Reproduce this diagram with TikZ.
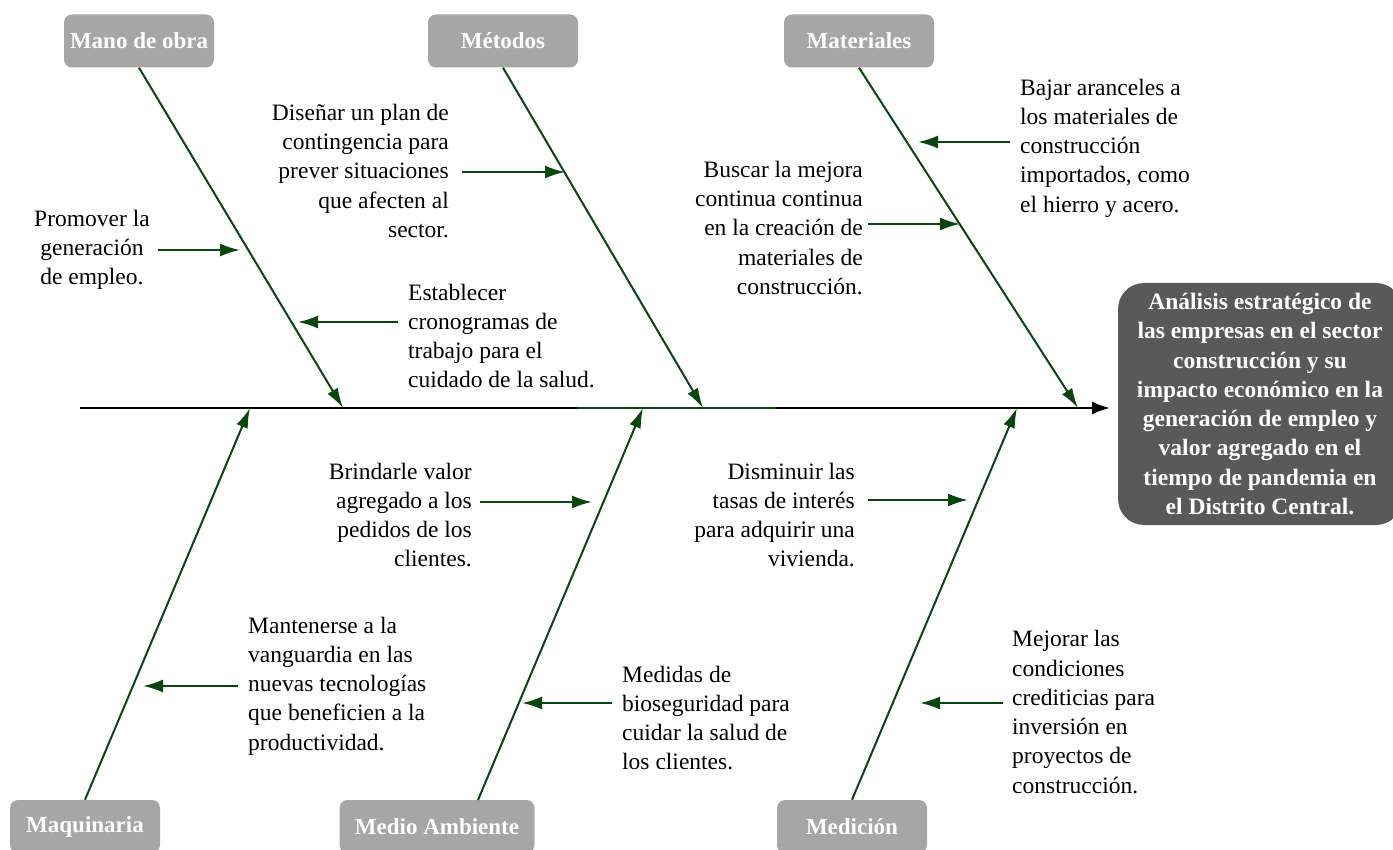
\documentclass[tikz,border=0pt]{standalone}
\usepackage{fontspec}
\setmainfont{Liberation Serif}
\usetikzlibrary{arrows.meta}
\definecolor{bonegreen}{RGB}{8,70,14}
\definecolor{boxgray}{RGB}{166,166,166}
\definecolor{headgray}{RGB}{89,89,89}

\begin{document}
\begin{tikzpicture}[x=1pt,y=-1pt,
  category/.style={fill=boxgray, rounded corners=8pt, minimum width=150pt,
    minimum height=53pt, text=white, font=\fontsize{23}{28}\selectfont\bfseries},
  effect/.style={fill=headgray, rounded corners=26pt, minimum width=284pt,
    minimum height=242pt, text=white, align=center,
    font=\fontsize{23.5}{29.3}\selectfont\bfseries},
  cause/.style={inner sep=0pt, font=\fontsize{23.5}{29.3}\selectfont},
  bone/.style={bonegreen, line width=2pt, -{Latex[length=20pt,width=12pt]}},
  idea/.style={bonegreen, line width=2.2pt, -{Latex[length=20pt,width=13pt]}}]
\useasboundingbox (0,0) rectangle (1393,850);
\clip (0,0) rectangle (1393,850);

% categorias
\node[category] (mano) at (139,41) {Mano de obra};
\node[category] (metodos) at (503,41) {Métodos};
\node[category] (materiales) at (859,41) {Materiales};
\node[category] (maquinaria) at (85,826.5) {Maquinaria};
\node[category, minimum width=195pt] (medio) at (437,826.5) {Medio Ambiente};
\node[category] (medicion) at (852,826.5) {Medición};

% efecto
\node[effect] (head) at (1260,404) {Análisis estratégico de\\las empresas en el sector\\construcción y su\\impacto económico en la\\generación de empleo y\\valor agregado en el\\tiempo de pandemia en\\el Distrito Central.};

% espina
\coordinate (tail) at (80,408);
\coordinate (headtip) at (1110,408);
\draw[line width=2.2pt, -{Latex[length=18pt,width=13pt]}] (tail) -- (headtip);
\draw[bonegreen, line width=2.2pt] (577,408) -- (776,408);

\coordinate (s1) at (343,408);
\coordinate (s2) at (703,408);
\coordinate (s3) at (1078,408);
\coordinate (s4) at (250,408);
\coordinate (s5) at (643,408);
\coordinate (s6) at (1017,408);
\coordinate (m5) at (478,800);

\draw[bone] (mano.south) -- (s1);
\draw[bone] (metodos.south) -- (s2);
\draw[bone] (materiales.south) -- (s3);
\draw[bone] (maquinaria.north) -- (s4);
\draw[bone] (m5) -- (s5);
\draw[bone] (medicion.north) -- (s6);

% causas
\node[cause, align=right, anchor=east] (dis) at (449,171)
  {Diseñar un plan de\\contingencia para\\prever situaciones\\que afecten al\\sector.};
\node[cause, align=center] (pro) at (92,250)
  {Promover la\\generación\\de empleo.};
\node[cause, align=left, anchor=west] (est) at (408,336)
  {Establecer\\cronogramas de\\trabajo para el\\cuidado de la salud.};
\node[cause, align=right, anchor=east] (bus) at (863,228)
  {Buscar la mejora\\continua continua\\en la creación de\\materiales de\\construcción.};
\node[cause, align=left, anchor=west] (baj) at (1020,148)
  {Bajar aranceles a\\los materiales de\\construcción\\importados, como\\el hierro y acero.};
\node[cause, align=right, anchor=east] (bri) at (472,515)
  {Brindarle valor\\agregado a los\\pedidos de los\\clientes.};
\node[cause, align=right, anchor=east] (dism) at (855,515)
  {Disminuir las\\tasas de interés\\para adquirir una\\vivienda.};
\node[cause, align=left, anchor=west] (man) at (248,686)
  {Mantenerse a la\\vanguardia en las\\nuevas tecnologías\\que beneficien a la\\productividad.};
\node[cause, align=left, anchor=west] (med) at (622,718)
  {Medidas de\\bioseguridad para\\cuidar la salud de\\los clientes.};
\node[cause, align=left, anchor=west] (mej) at (1012,712)
  {Mejorar las\\condiciones\\crediticias para\\inversión en\\proyectos de\\construcción.};

\coordinate (c1) at (565,172);
\coordinate (c2) at (240,250);
\coordinate (c3) at (298,322);
\coordinate (c4) at (960,224);
\coordinate (c5) at (918,142);
\coordinate (c6) at (592,502);
\coordinate (c7) at (968,500);
\coordinate (c8) at (143,686);
\coordinate (c9) at (522,703);
\coordinate (c10) at (920,703);

\draw[idea, shorten <=13pt] (dis.east |- c1) -- (c1);
\draw[idea, shorten <=8pt] (pro.east |- c2) -- (c2);
\draw[idea, shorten <=10pt] (est.west |- c3) -- (c3);
\draw[idea, shorten <=5pt] (bus.east |- c4) -- (c4);
\draw[idea, shorten <=10pt] (baj.west |- c5) -- (c5);
\draw[idea, shorten <=8pt] (bri.east |- c6) -- (c6);
\draw[idea, shorten <=13pt] (dism.east |- c7) -- (c7);
\draw[idea, shorten <=10pt] (man.west |- c8) -- (c8);
\draw[idea, shorten <=10pt] (med.west |- c9) -- (c9);
\draw[idea, shorten <=9pt] (mej.west |- c10) -- (c10);
\end{tikzpicture}
\end{document}
